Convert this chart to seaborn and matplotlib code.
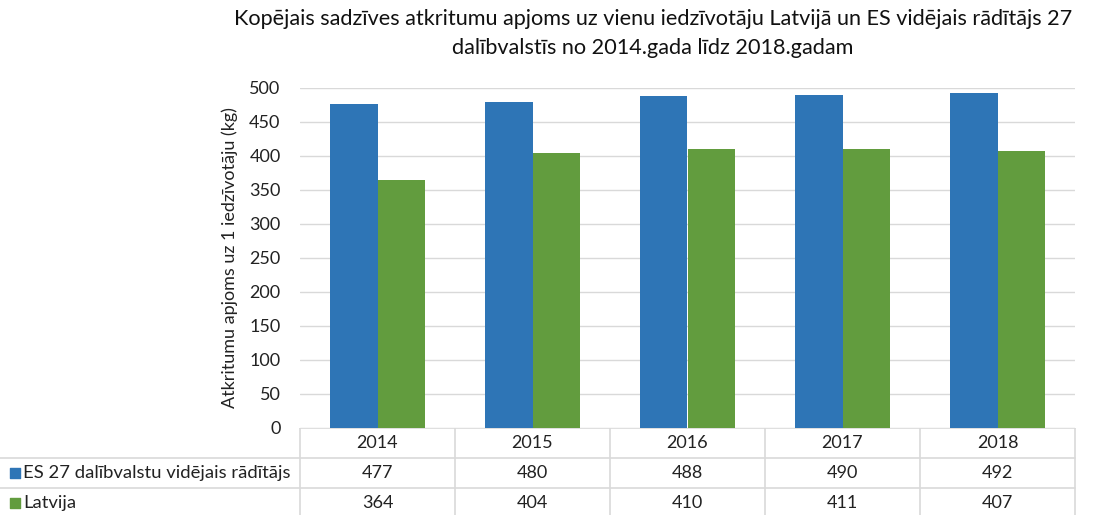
import matplotlib
matplotlib.use("Agg")
import matplotlib.pyplot as plt
import seaborn as sns
import pandas as pd

years = ["2014", "2015", "2016", "2017", "2018"]
series_names = ["ES 27 dalībvalstu vidējais rādītājs", "Latvija"]
es_values = [477, 480, 488, 490, 492]
lv_values = [364, 404, 410, 411, 407]
colors = ["#2E75B6", "#629C3E"]

title = ("Kopējais sadzīves atkritumu apjoms uz vienu iedzīvotāju Latvijā un ES vidējais rādītājs 27\n"
         "dalībvalstīs no 2014.gada līdz 2018.gadam")
ylabel = "Atkritumu apjoms uz 1 iedzīvotāju (kg)"

df = pd.DataFrame({
    "year": years * 2,
    "series": [series_names[0]] * len(years) + [series_names[1]] * len(years),
    "value": es_values + lv_values,
})

sns.set_style("white")
plt.rcParams["font.family"] = ["Lato", "DejaVu Sans"]

W, H = 1094, 515
fig = plt.figure(figsize=(W / 100, H / 100), dpi=100)

# plot area in pixels
left_px, right_px, top_px, bottom_px = 300, 1075, 88, 428
ax = fig.add_axes([left_px / W, 1 - bottom_px / H, (right_px - left_px) / W, (bottom_px - top_px) / H])

sns.barplot(data=df, x="year", y="value", hue="series", palette=colors,
            width=0.61, gap=0, saturation=1, linewidth=0, ax=ax, legend=False)

ax.set_ylim(0, 500)
ax.set_yticks(range(0, 501, 50))
ax.set_xlim(-0.5, len(years) - 0.5)
ax.yaxis.grid(True, color="#D9D9D9", linewidth=1)
ax.set_axisbelow(True)
for s in ["left", "right", "top", "bottom"]:
    ax.spines[s].set_visible(False)
ax.set_xticks([])
ax.set_xlabel("")
ax.set_ylabel(ylabel, fontsize=13, color="#222222", labelpad=8)
ax.tick_params(axis="y", labelsize=13, colors="#222222", length=0, pad=14)

fig.text(653 / W, 1 - 9 / H, title, ha="center", va="top", fontsize=15.6,
         color="#111111", linespacing=1.55)

# data table below the plot
tab = fig.add_axes([0, 0, 1, (H - bottom_px) / H])
tab.set_xlim(0, W)
tab.set_ylim(H - bottom_px, 0)
tab.axis("off")

row_h = 30
col_w = (right_px - left_px) / len(years)
line_c = "#D9D9D9"

tab.plot([left_px, right_px], [0, 0], color=line_c, lw=1.2)
for r in range(1, 3):
    tab.plot([0, right_px], [r * row_h, r * row_h], color=line_c, lw=1.2)
for i in range(len(years) + 1):
    x = left_px + i * col_w
    tab.plot([x, x], [0, H - bottom_px], color=line_c, lw=1.2)

for i, y in enumerate(years):
    tab.text(left_px + (i + 0.5) * col_w, row_h * 0.5, y, ha="center", va="center",
             fontsize=13, color="#222222")

for r, (name, vals, c) in enumerate(zip(series_names, [es_values, lv_values], colors)):
    yc = row_h * (r + 1.5)
    tab.scatter([15], [yc], marker="s", s=55, color=c)
    tab.text(23, yc, name, ha="left", va="center", fontsize=13.3, color="#222222")
    for i, v in enumerate(vals):
        tab.text(left_px + (i + 0.5) * col_w, yc, str(v), ha="center", va="center",
                 fontsize=13, color="#222222")

fig.savefig("out.png", dpi=100)
